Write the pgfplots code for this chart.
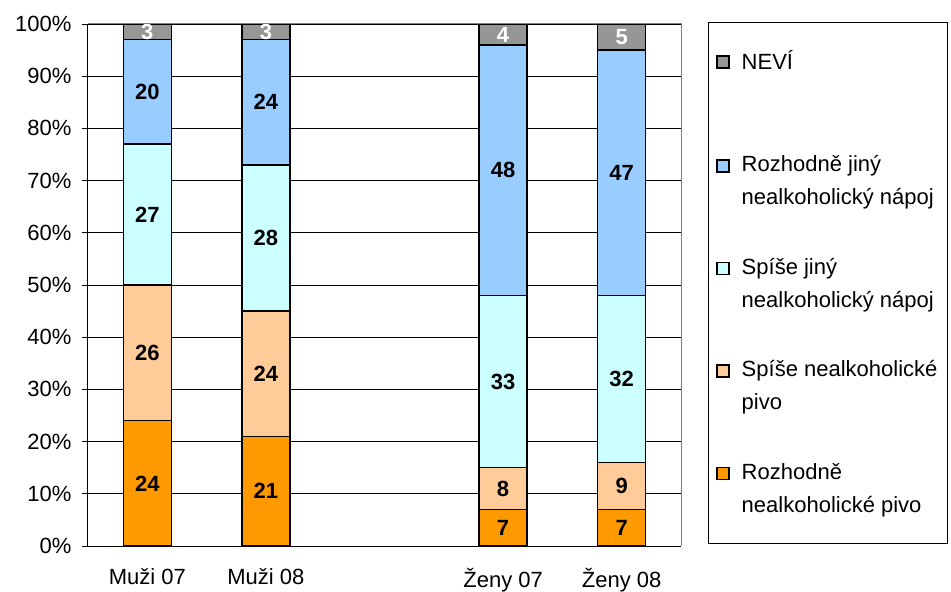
\documentclass[border=0pt]{standalone}
\usepackage{pgfplots}
\pgfplotsset{compat=1.18}
\usepackage{fontspec}
\setmainfont{Liberation Sans}
\definecolor{c1}{HTML}{FF9900}
\definecolor{c2}{HTML}{FFCC99}
\definecolor{c3}{HTML}{CCFFFF}
\definecolor{c4}{HTML}{99CCFF}
\definecolor{c5}{HTML}{969696}
\begin{document}
\fontsize{22bp}{26bp}\selectfont
\begin{tikzpicture}
\pgfplotsset{lgd/.style={legend image code/.code={\draw[##1, line width=1.2bp, draw=black] (1bp,10bp) rectangle (13bp,22bp); \path (23bp,0bp);}}}
\begin{axis}[
  scale only axis, width=593bp, height=522bp,
  ybar stacked, bar width=48bp,
  xmin=-0.5, xmax=4.5, ymin=0, ymax=100,
  axis x line*=bottom, axis y line*=left,
  axis line style={black, line width=1bp},
  xtick={0,1,3,4}, xticklabels={Muži 07, Muži 08, Ženy 07, Ženy 08},
  x tick label style={yshift=-8.5bp},
  major tick length=6bp, tick align=outside,
  extra x ticks={-0.5,0.5,1.5,2.5,3.5,4.5},
  extra x tick labels={},
  extra x tick style={major tick length=7bp, x tick label style={yshift=0bp}},
  ytick={0,10,...,100},
  yticklabel={\pgfmathprintnumber{\tick}\%},
  /pgf/number format/assume math mode=true,
  ymajorgrids, grid style={black, line width=0.8bp},
  tick style={black, line width=0.8bp},
  x tick style={draw=none},
  extra x tick style={tick style={draw=black}},
  y tick label style={xshift=-3bp},
  nodes near coords={\pgfmathparse{int(\rawy)}\pgfmathresult},
  visualization depends on={rawy \as \rawy},
  every node near coord/.append style={font=\bfseries, anchor=center},
  legend style={at={(1,1)}, anchor=north west, xshift=27bp, yshift=2bp, draw=black, line width=0.8bp,
     inner xsep=8bp, inner ysep=26bp, row sep=46bp, font=\fontsize{22bp}{33bp}\selectfont,
     cells={anchor=west, align=left}},
  legend cell align=left,
  reverse legend,
]
\addplot[fill=c1, draw=black, line width=1.5bp, lgd] coordinates {(0,24) (1,21) (3,7) (4,7)};
\addlegendentry{Rozhodně\\nealkoholické pivo}
\addplot[fill=c2, draw=black, line width=1.5bp, lgd] coordinates {(0,26) (1,24) (3,8) (4,9)};
\addlegendentry{Spíše nealkoholické\\pivo}
\addplot[fill=c3, draw=black, line width=1.5bp, lgd] coordinates {(0,27) (1,28) (3,33) (4,32)};
\addlegendentry{Spíše jiný\\nealkoholický nápoj}
\addplot[fill=c4, draw=black, line width=1.5bp, lgd] coordinates {(0,20) (1,24) (3,48) (4,47)};
\addlegendentry{Rozhodně jiný\\nealkoholický nápoj}
\addplot[fill=c5, draw=black, line width=1.5bp, lgd, every node near coord/.append style={white}] coordinates {(0,3) (1,3) (3,4) (4,5)};
\addlegendentry{NEVÍ\\\mbox{}}
\coordinate (O) at (rel axis cs:0,0);
\coordinate (T) at (rel axis cs:1,1);
\end{axis}
\draw[gray, line width=1bp] (O |- T) -- (T) -- (T |- O);
\pgfresetboundingbox
\path[use as bounding box] ([shift={(-88bp,-46bp)}]O) rectangle ([shift={(270bp,24bp)}]T);
\end{tikzpicture}
\end{document}
